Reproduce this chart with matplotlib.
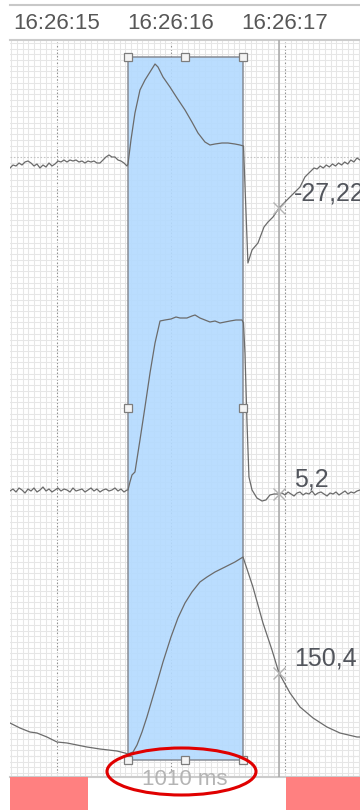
import numpy as np
import matplotlib
matplotlib.use("Agg")
import matplotlib.pyplot as plt
from matplotlib.patches import Rectangle, Ellipse
from matplotlib.lines import Line2D
from matplotlib.ticker import MultipleLocator

plt.rcParams['font.family'] = ['Liberation Sans', 'DejaVu Sans']

# ---- time axis (seconds after 16:26:15) ----
tick_times = [0, 1, 2]
tick_labels = ["16:26:15", "16:26:16", "16:26:17"]
t_view = (-0.412, 2.658)

# selection, cursor and event band
sel_start, sel_end = 0.622, 1.632
cursor_t = 1.947
cursor_values = [-27.22, 5.2, 150.4]
cursor_decimals = [2, 1, 1]
event_starts = [-0.5, 2.009]
event_ends = [0.272, 2.8]

# ---- channel 1 ----
ch1_pre_span = (-0.412, 0.614)
ch1_pre_v = [-23.2, -22.9, -23.0, -22.7, -22.9, -22.6, -22.5, -22.7, -23.0, -22.8,
             -23.2, -22.9, -23.1, -22.7, -23.0, -22.8, -22.5, -22.6, -22.4, -22.6,
             -22.4, -22.5, -22.4, -22.6, -22.5, -22.7, -22.5, -22.6, -22.5, -22.7,
             -22.7, -22.4, -22.1, -21.9, -22.1, -22.1, -22.4, -22.5, -22.7, -23.0]
ch1_t = [0.623, 0.649, 0.684, 0.728, 0.772, 0.816, 0.860, 0.886, 0.930, 0.991,
         1.053, 1.123, 1.184, 1.237, 1.298, 1.342, 1.386, 1.447, 1.500, 1.561,
         1.605, 1.636, 1.675, 1.711, 1.763, 1.816, 1.851, 1.895, 1.947, 2.000,
         2.044, 2.088, 2.132, 2.175, 2.219]
ch1_v = [-22.8, -20.4, -17.7, -15.4, -14.4, -13.6, -12.8, -13.1, -14.1, -15.1,
         -16.2, -17.4, -18.6, -19.7, -20.6, -20.9, -20.8, -20.7, -20.7, -20.8,
         -20.9, -21.0, -32.7, -31.4, -30.7, -29.1, -28.6, -28.1, -27.22, -26.6,
         -26.1, -25.6, -25.1, -24.1, -23.6]
ch1_post_span = (2.228, 2.658)
ch1_post_v = [-23.5, -23.2, -23.3, -23.0, -23.2, -22.9, -23.1, -22.8, -23.0,
              -22.7, -22.9, -22.6, -22.8, -22.4, -22.6, -22.2, -22.4]

# ---- channel 2 ----
ch2_pre_span = (-0.412, 0.614)
ch2_pre_v = [5.5, 5.7, 5.4, 5.8, 5.6, 5.3, 5.7, 5.5, 5.8, 5.4,
             5.6, 5.9, 5.5, 5.7, 5.4, 5.6, 5.8, 5.5, 5.7, 5.6,
             5.4, 5.8, 5.5, 5.6, 5.7, 5.4, 5.6, 5.8, 5.5, 5.7,
             5.4, 5.6, 5.7, 5.5, 5.6, 5.8, 5.5, 5.7, 5.4, 5.6]
ch2_t = [0.623, 0.640, 0.658, 0.684, 0.728, 0.772, 0.816, 0.860, 0.904, 0.947,
         1.000, 1.044, 1.079, 1.140, 1.184, 1.211, 1.254, 1.298, 1.342, 1.386,
         1.430, 1.474, 1.518, 1.570, 1.623, 1.636, 1.649, 1.667, 1.684, 1.711,
         1.754, 1.798, 1.833, 1.868, 1.904, 1.947]
ch2_v = [5.6, 6.4, 7.1, 7.4, 10.6, 13.9, 17.3, 20.3, 22.5, 22.6,
         22.7, 22.9, 22.8, 22.8, 23.0, 23.1, 22.8, 22.6, 22.4, 22.5,
         22.3, 22.4, 22.5, 22.6, 22.6, 22.3, 19.3, 12.3, 6.9, 5.6,
         4.8, 4.5, 4.6, 5.1, 5.2, 5.2]
ch2_post_span = (1.974, 2.658)
ch2_post_v = [5.3, 5.1, 5.4, 5.2, 5.0, 5.3, 5.4, 5.1, 5.3, 5.2, 5.5, 5.1, 5.3, 5.4,
              5.2, 5.0, 5.3, 5.2, 5.4, 5.1, 5.3, 5.5, 5.2, 5.4, 5.3, 5.5, 5.6]

# ---- channel 3 ----
ch3_t = [-0.412, -0.325, -0.237, -0.175, -0.088, 0.0, 0.088, 0.263, 0.377, 0.526,
         0.596, 0.623, 0.667, 0.702, 0.746, 0.789, 0.833, 0.877, 0.930, 1.0,
         1.061, 1.123, 1.184, 1.254, 1.316, 1.386, 1.474, 1.561, 1.632, 1.719,
         1.807, 1.886, 1.947, 2.044, 2.132, 2.246, 2.368, 2.482, 2.632, 2.658]
ch3_v = [100.4, 95.4, 91.4, 90.4, 86.4, 81.4, 80.4, 76.4, 74.4, 72.4,
         70.4, 69.4, 71.4, 78.4, 91.4, 106.4, 123.4, 140.4, 161.4, 186.4,
         205.4, 220.4, 231.4, 241.4, 246.4, 251.4, 256.4, 261.4, 266.4, 236.4,
         200.4, 173.4, 150.4, 130.4, 116.4, 105.4, 96.4, 90.4, 86.4, 86.4]

# display range of each channel (bottom, top)
channel_ranges = [(-84.1, -10.4), (-23.1, 50.6), (46.4, 783.4)]


def join(pre_span, pre_v, t, v, post_span=None, post_v=None):
    ts, vs = [], []
    if pre_v:
        ts.append(np.linspace(pre_span[0], pre_span[1], len(pre_v)))
        vs.append(np.asarray(pre_v))
    ts.append(np.asarray(t))
    vs.append(np.asarray(v))
    if post_v:
        ts.append(np.linspace(post_span[0], post_span[1], len(post_v)))
        vs.append(np.asarray(post_v))
    return np.concatenate(ts), np.concatenate(vs)


channels = [
    join(ch1_pre_span, ch1_pre_v, ch1_t, ch1_v, ch1_post_span, ch1_post_v),
    join(ch2_pre_span, ch2_pre_v, ch2_t, ch2_v, ch2_post_span, ch2_post_v),
    join(None, [], ch3_t, ch3_v),
]

# ---- layout (pixel boxes, origin top-left) ----
W, H = 360, 810


def frac_rect(x0, y0, x1, y1):
    return [x0 / W, 1 - y1 / H, (x1 - x0) / W, (y1 - y0) / H]


PLOT_TOP, PLOT_BOT = 40, 777
plot_rect = frac_rect(10, PLOT_TOP, 360, PLOT_BOT)

fig = plt.figure(figsize=(W / 100, H / 100), dpi=100)

# background chart: grid, time ticks, selection, cursor
ax = fig.add_axes(plot_rect)
ax.set_zorder(0)
ax.set_xlim(*t_view)
ax.set_ylim(PLOT_BOT, PLOT_TOP)
for side in ("left", "right"):
    ax.spines[side].set_visible(False)
for side in ("top", "bottom"):
    ax.spines[side].set_color("#cccccc")
    ax.spines[side].set_linewidth(1.5)

ax.set_xticks(tick_times, tick_labels)
ax.xaxis.set_minor_locator(MultipleLocator(0.05))
ax.xaxis.tick_top()
ax.tick_params(axis="x", which="both", length=0, pad=4, labelsize=16,
               labelcolor="#575757")

row_step = 5.705
major_rows = [157, 756]
minor_rows = 157 + row_step * np.arange(-20, 109)
ax.set_yticks(major_rows)
ax.set_yticks(minor_rows, minor=True)
ax.tick_params(axis="y", which="both", length=0, labelleft=False)

ax.set_axisbelow(True)
ax.grid(axis="x", which="minor", color="#e6e6e6", lw=0.75)
ax.grid(axis="y", which="minor", color="#e6e6e6", lw=0.75)
ax.grid(axis="x", which="major", color="#939393", lw=0.8, ls=(0, (1.5, 1.5)))
ax.grid(axis="y", which="major", color="#c4c4c4", lw=0.8, ls=(0, (1.5, 1.5)))

ax.add_patch(Rectangle((sel_start, 57), sel_end - sel_start, 703,
                       facecolor=(0.70, 0.855, 1.0, 0.9), edgecolor="#878c94",
                       lw=1.1, zorder=2))
ax.axvline(cursor_t, color="#a8a8a8", lw=1.1, zorder=3)

# one overlay axes per channel, each with its own value range
for i, ((t, v), rng, cv, nd) in enumerate(zip(channels, channel_ranges,
                                              cursor_values, cursor_decimals)):
    cax = fig.add_axes(plot_rect, sharex=ax)
    cax.set_zorder(1 + i)
    cax.set_ylim(*rng)
    cax.axis("off")
    cax.patch.set_visible(False)
    cax.plot(t, v, color="#6b6b6b", lw=0.9)
    cax.plot([cursor_t], [cv], marker="x", ms=9, color="#b3b3b3", mew=1.0)
    label = f"{cv:.{nd}f}".replace(".", ",")
    cax.annotate(label, (cursor_t, cv), xytext=(11, 5.5),
                 textcoords="offset points", ha="left", va="baseline",
                 fontsize=18, color="#52555c", annotation_clip=False)

# selection handles on top
hax = fig.add_axes(plot_rect, sharex=ax)
hax.set_zorder(10)
hax.set_ylim(PLOT_BOT, PLOT_TOP)
hax.axis("off")
hax.patch.set_visible(False)
sel_mid = (sel_start + sel_end) / 2
hx = [sel_start, sel_mid, sel_end, sel_start, sel_end, sel_start, sel_mid, sel_end]
hy = [57, 57, 57, 408, 408, 760, 760, 760]
hax.plot(hx, hy, "s", ms=6, mfc="#f4f4f4", mec="#7d7d7d", mew=0.9, clip_on=False)

# event band below the chart
eax = fig.add_axes(frac_rect(10, PLOT_BOT, 360, H), sharex=ax)
eax.set_zorder(0)
eax.set_ylim(0, 1)
eax.axis("off")
for s, e in zip(event_starts, event_ends):
    eax.axvspan(s, e, color="#ff8080", lw=0)

# header separator
fig.add_artist(Line2D([10 / W, 1], [1 - 5 / H, 1 - 5 / H], color="#c8c8c8", lw=1.5))

# selection duration with highlight ring
dur_ms = int(round((sel_end - sel_start) * 1000))
fig.text(185 / W, 1 - 785 / H, f"{dur_ms} ms", ha="center", va="baseline",
         fontsize=16, color="#b4b4b4", zorder=20)
fig.add_artist(Ellipse((181.5 / W, 1 - 771.5 / H), 149 / W, 47 / H,
                       transform=fig.transFigure, fill=False, ec="#e00000",
                       lw=2.2, zorder=21))

fig.savefig("out.png", dpi=100)
